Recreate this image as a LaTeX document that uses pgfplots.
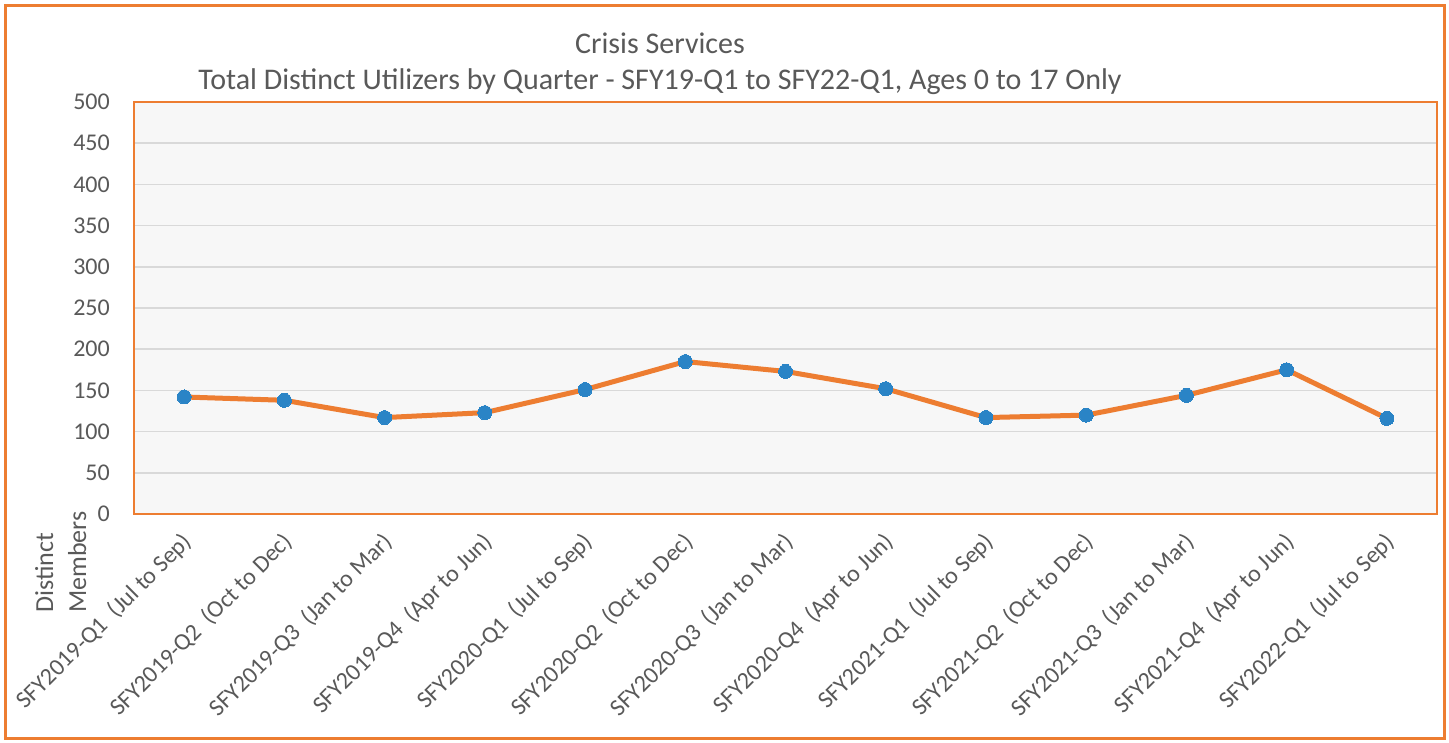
\documentclass[border=0pt]{standalone}
\usepackage{pgfplots}
\pgfplotsset{compat=1.18}
\usepackage{fontspec}
\setmainfont{Carlito}
\definecolor{xlorange}{HTML}{ED7D31}
\definecolor{xlblue}{HTML}{2A84C6}
\definecolor{txtgray}{HTML}{595959}
\definecolor{plotbg}{HTML}{F7F7F7}
\definecolor{gridgray}{HTML}{D9D9D9}
\begin{document}
\begin{tikzpicture}[x=1bp,y=1bp]
\useasboundingbox (0,0) rectangle (1449,742);
\draw[xlorange, line width=3bp] (5,4) rectangle (1444,736);
\node[text=txtgray, font=\fontsize{30bp}{34bp}\selectfont, anchor=base] at (660,688) {Crisis Services};
\node[text=txtgray, font=\fontsize{30bp}{34bp}\selectfont, anchor=base] at (660,652) {Total Distinct Utilizers by Quarter - SFY19-Q1 to SFY22-Q1, Ages 0 to 17 Only};
\node[rotate=90, anchor=north west, align=left, inner sep=0pt, text=txtgray, font=\fontsize{26bp}{33bp}\selectfont] at (35,129) {Distinct\\Members};
\begin{axis}[
  at={(134bp,228bp)}, anchor=south west,
  scale only axis, width=1303bp, height=412bp,
  xmin=-0.5, xmax=12.5, ymin=0, ymax=500,
  ytick={0,50,...,500},
  xtick={0,...,12},
  xticklabels={
    {SFY2019-Q1\ \ (Jul to Sep)},
    {SFY2019-Q2\ \ (Oct to Dec)},
    {SFY2019-Q3\ \ (Jan to Mar)},
    {SFY2019-Q4\ \ (Apr to Jun)},
    {SFY2020-Q1\ \ (Jul to Sep)},
    {SFY2020-Q2\ \ (Oct to Dec)},
    {SFY2020-Q3\ \ (Jan to Mar)},
    {SFY2020-Q4\ \ (Apr to Jun)},
    {SFY2021-Q1\ \ (Jul to Sep)},
    {SFY2021-Q2\ \ (Oct to Dec)},
    {SFY2021-Q3\ \ (Jan to Mar)},
    {SFY2021-Q4\ \ (Apr to Jun)},
    {SFY2022-Q1\ \ (Jul to Sep)}},
  axis background/.style={fill=plotbg},
  axis line style={xlorange, line width=2bp},
  ymajorgrids, grid style={gridgray, line width=1.5bp},
  major tick length=0pt,
  /pgf/number format/assume math mode=true,
  tick label style={font=\fontsize{24bp}{28bp}\selectfont, text=txtgray},
  yticklabel style={inner sep=0pt, xshift=-24bp},
  xticklabel style={xshift=4bp, yshift=-24bp, rotate=45, anchor=east, inner sep=0pt},
  clip=false,
]
\addplot[xlorange, line width=5bp, mark=*, mark size=7bp,
  mark options={fill=xlblue, draw=xlblue, line width=0pt}]
  coordinates {(0,142) (1,138) (2,117) (3,123) (4,151) (5,185) (6,173) (7,152) (8,117) (9,120) (10,144) (11,175) (12,116)};
\end{axis}
\end{tikzpicture}
\end{document}
